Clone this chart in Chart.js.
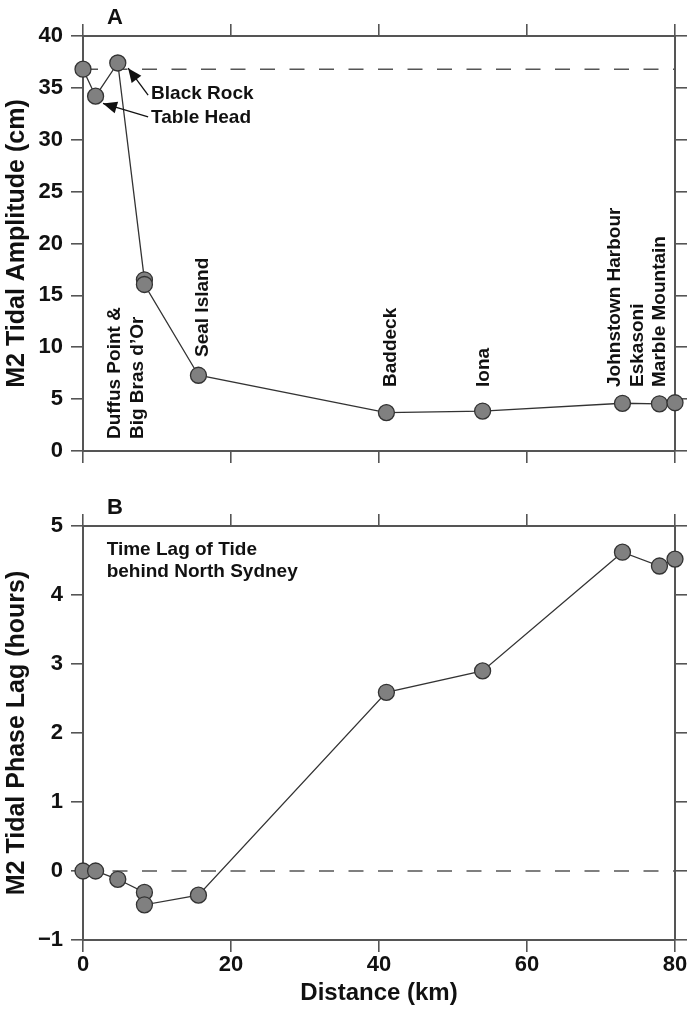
<!DOCTYPE html>
<html>
<head>
<meta charset="utf-8">
<script src="https://cdn.jsdelivr.net/npm/chart.js@4.4.1/dist/chart.umd.min.js"></script>
<style>
  html, body { margin: 0; padding: 0; background: #fff; }
  #wrap { position: relative; width: 692px; height: 1020px; }
  #cA { position: absolute; left: 0; top: 0; }
  #cB { position: absolute; left: 0; top: 480px; }
</style>
</head>
<body>
<div id="wrap">
  <canvas id="cA" width="692" height="480"></canvas>
  <canvas id="cB" width="692" height="540"></canvas>
</div>
<script>
// Stations along the Bras d'Or channel, ordered by distance from North Sydney
const stations = ['North Sydney', 'Table Head', 'Black Rock', 'Duffus Point', "Big Bras d'Or",
                  'Seal Island', 'Baddeck', 'Iona', 'Johnstown Harbour', 'Eskasoni', 'Marble Mountain'];
const distanceKm = [0, 1.7, 4.7, 8.3, 8.3, 15.6, 41.0, 54.0, 72.9, 77.9, 80.0];
const amplitudeCm = [36.8, 34.2, 37.4, 16.5, 16.05, 7.3, 3.7, 3.85, 4.6, 4.55, 4.65];
const phaseLagHours = [0, 0, -0.12, -0.31, -0.49, -0.35, 2.59, 2.90, 4.62, 4.42, 4.52];

// Axis ticks
const distanceTicks = [0, 20, 40, 60, 80];
const amplitudeTicks = [0, 5, 10, 15, 20, 25, 30, 35, 40];
const lagTicks = [-1, 0, 1, 2, 3, 4, 5];

const FONT = '"Liberation Sans", Arial, Helvetica, sans-serif';
const AXIS = '#555';
const INK = '#111';

// Place-name notes for panel A (anchors in km / cm; vertical text reads upward from the anchor)
const verticalNotesA = [
  { x: 4.3, y: 1.15, lines: ['Duffus Point &', "Big Bras d\u2019Or"] },
  { x: 16.2, y: 9.06, lines: ['Seal Island'] },
  { x: 41.6, y: 6.17, lines: ['Baddeck'] },
  { x: 54.2, y: 6.17, lines: ['Iona'] },
  { x: 71.9, y: 6.17, lines: ['Johnstown Harbour', 'Eskasoni', 'Marble Mountain'] }
];
const arrowNotesA = [
  { text: 'Black Rock', x: 9.2, y: 34.4, tail: [8.8, 34.3], tip: [6.1, 36.9] },
  { text: 'Table Head', x: 9.2, y: 32.1, tail: [8.8, 32.2], tip: [2.7, 33.5] }
];
const textNotesB = [
  { x: 3.2, y: 4.65, lines: ['Time Lag of Tide', 'behind North Sydney'] }
];

function pts(xs, ys) { return xs.map((v, i) => ({ x: v, y: ys[i] })); }
function fixTicks(list) { return s => { s.ticks = list.map(v => ({ value: v })); }; }
function fmt(v) { return v < 0 ? '\u2212' + Math.abs(v) : String(v); }

function drawArrowHead(ctx, x0, y0, x1, y1) {
  const ang = Math.atan2(y1 - y0, x1 - x0);
  const len = 14, half = 6;
  ctx.beginPath();
  ctx.moveTo(x1, y1);
  ctx.lineTo(x1 - len * Math.cos(ang) + half * Math.sin(ang), y1 - len * Math.sin(ang) - half * Math.cos(ang));
  ctx.lineTo(x1 - len * Math.cos(ang) - half * Math.sin(ang), y1 - len * Math.sin(ang) + half * Math.cos(ang));
  ctx.closePath();
  ctx.fill();
}

const notesPlugin = {
  id: 'notes',
  afterDatasetsDraw(chart, args, opts) {
    const { ctx, chartArea } = chart;
    const sx = chart.scales.x, sy = chart.scales.y;
    ctx.save();
    ctx.fillStyle = INK;
    ctx.strokeStyle = INK;
    // panel letter
    ctx.font = 'bold 22px ' + FONT;
    ctx.textAlign = 'center';
    ctx.textBaseline = 'middle';
    ctx.fillText(opts.letter, chartArea.left + 32, chartArea.top - 18);

    ctx.font = 'bold 19px ' + FONT;
    (opts.vertical || []).forEach(n => {
      ctx.save();
      ctx.translate(sx.getPixelForValue(n.x), sy.getPixelForValue(n.y));
      ctx.rotate(-Math.PI / 2);
      ctx.textAlign = 'left';
      ctx.textBaseline = 'middle';
      n.lines.forEach((t, i) => ctx.fillText(t, 0, i * 22.5));
      ctx.restore();
    });
    (opts.horizontal || []).forEach(n => {
      ctx.textAlign = 'left';
      ctx.textBaseline = 'middle';
      n.lines.forEach((t, i) => ctx.fillText(t, sx.getPixelForValue(n.x), sy.getPixelForValue(n.y) + i * 22));
    });
    (opts.arrows || []).forEach(n => {
      ctx.textAlign = 'left';
      ctx.textBaseline = 'middle';
      ctx.fillText(n.text, sx.getPixelForValue(n.x), sy.getPixelForValue(n.y));
      const x0 = sx.getPixelForValue(n.tail[0]), y0 = sy.getPixelForValue(n.tail[1]);
      const x1 = sx.getPixelForValue(n.tip[0]), y1 = sy.getPixelForValue(n.tip[1]);
      ctx.lineWidth = 1.3;
      ctx.beginPath();
      ctx.moveTo(x0, y0);
      ctx.lineTo(x1, y1);
      ctx.stroke();
      drawArrowHead(ctx, x0, y0, x1, y1);
    });
    ctx.restore();
  }
};

function axisBase(pos, min, max, ticks, size) {
  return {
    type: 'linear', position: pos, min: min, max: max,
    afterBuildTicks: fixTicks(ticks),
    afterFit: s => { if (pos === 'left' || pos === 'right') s.width = size; else s.height = size; },
    border: { display: true, color: AXIS, width: 2 },
    grid: { drawOnChartArea: false, drawTicks: true, tickLength: 12, color: AXIS, lineWidth: 1.6 },
    ticks: { display: false }
  };
}

function makePanel(canvasId, values, yMin, yMax, yTicks, yTitle, refLevel, bottomSize, showX, notes) {
  const x = axisBase('bottom', 0, 80, distanceTicks, bottomSize);
  const y = axisBase('left', yMin, yMax, yTicks, 83);
  y.ticks = { display: true, color: INK, padding: 8, font: { family: FONT, size: 22, weight: 'bold' }, callback: v => fmt(v) };
  y.title = { display: true, text: yTitle, color: INK, padding: { top: 2, bottom: 0 }, font: { family: FONT, size: 25, weight: 'bold' } };
  if (showX) {
    x.ticks = { display: true, color: INK, padding: 0, maxRotation: 0, font: { family: FONT, size: 22, weight: 'bold' }, callback: v => fmt(v) };
    x.title = { display: true, text: 'Distance (km)', color: INK, padding: { top: 0, bottom: 12 }, font: { family: FONT, size: 24, weight: 'bold' } };
  }
  const topSize = canvasId === 'cA' ? 36 : 46;
  return new Chart(document.getElementById(canvasId), {
    type: 'scatter',
    data: {
      datasets: [
        {
          label: stations.join(', '),
          data: pts(distanceKm, values),
          showLine: true,
          borderColor: '#333',
          borderWidth: 1.3,
          pointRadius: 8,
          pointBackgroundColor: '#808080',
          pointBorderColor: '#333',
          pointBorderWidth: 1.3,
          clip: false
        },
        {
          label: 'reference',
          data: [{ x: 0, y: refLevel }, { x: 80, y: refLevel }],
          showLine: true,
          borderColor: AXIS,
          borderWidth: 1.6,
          borderDash: [15, 14.5],
          pointRadius: 0
        }
      ]
    },
    options: {
      responsive: false,
      animation: false,
      devicePixelRatio: 1,
      layout: { padding: 0 },
      plugins: { legend: { display: false }, tooltip: { enabled: false }, notes: notes },
      scales: {
        x: x,
        x2: axisBase('top', 0, 80, distanceTicks, topSize),
        y: y,
        y2: axisBase('right', yMin, yMax, yTicks, 17)
      }
    },
    plugins: [notesPlugin]
  });
}

makePanel('cA', amplitudeCm, 0, 40, amplitudeTicks, 'M2 Tidal Amplitude (cm)', amplitudeCm[0], 29, false,
  { letter: 'A', vertical: verticalNotesA, arrows: arrowNotesA });
makePanel('cB', phaseLagHours, -1, 5, lagTicks, 'M2 Tidal Phase Lag (hours)', 0, 80, true,
  { letter: 'B', horizontal: textNotesB });
</script>
</body>
</html>
